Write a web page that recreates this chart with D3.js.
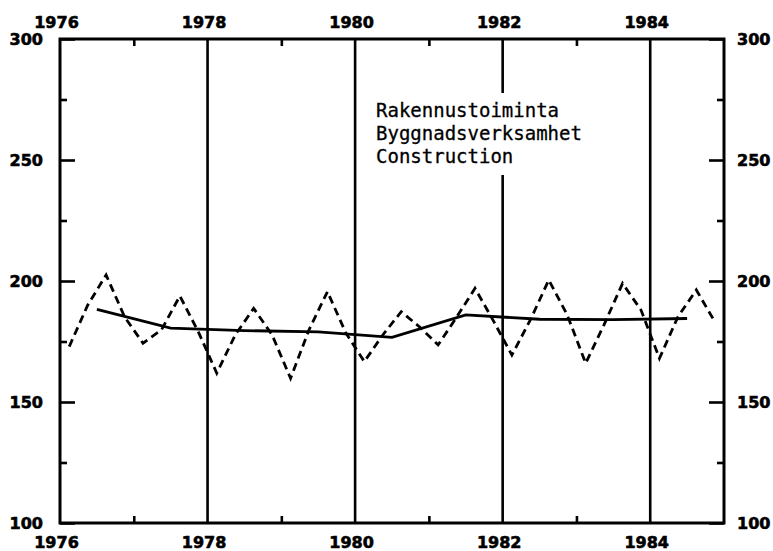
<!DOCTYPE html>
<html>
<head>
<meta charset="utf-8">
<script src="https://cdn.jsdelivr.net/npm/d3@7"></script>
<style>
  body { margin: 0; background: #fff; }
  svg { display: block; }
</style>
</head>
<body>
<div id="chart"></div>
<script>
// tick values
const majorYears = [1976, 1978, 1980, 1982, 1984];
const minorYears = [1977, 1979, 1981, 1983];
const gridYears = [1978, 1980, 1982, 1984];
const yMajor = [100, 150, 200, 250, 300];
const yMinor = [125, 175, 225, 275];

// quarterly index, 1976 Q1 .. 1984 Q4 (dashed)
const qYears = [1976, 1977, 1978, 1979, 1980, 1981, 1982, 1983, 1984];
const quarterly = [
  172.9, 190.0, 202.5, 185.2,
  174.3, 179.8, 193.8, 179.0,
  161.9, 177.7, 188.7, 177.7,
  159.8, 179.8, 195.6, 178.5,
  166.7, 177.7, 187.3, 181.0,
  173.6, 185.0, 197.0, 183.5,
  169.4, 183.9, 200.4, 186.0,
  166.0, 182.0, 199.0, 188.0,
  168.0, 185.2, 196.3, 183.2
];

// annual trend (solid), plotted mid-year
const trendYears = [1976.5, 1977.5, 1978.5, 1979.5, 1980.5, 1981.5, 1982.5, 1983.5, 1984.5];
const trend = [188.3, 180.5, 179.5, 179.0, 176.7, 186.0, 184.2, 184.0, 184.5];

const labels = ["Rakennustoiminta", "Byggnadsverksamhet", "Construction"];

function display() {
  const width = 773, height = 551;
  const left = 60, right = 724, top = 39, bottom = 523;

  const x = d3.scaleLinear().domain([1976, 1985]).range([left, right]);
  const y = d3.scaleLinear().domain([100, 300]).range([bottom, top]);

  const svg = d3.select("#chart").append("svg")
    .attr("width", width)
    .attr("height", height)
    .style("background", "#fff");

  // vertical grid lines at even years
  svg.append("g").selectAll("line")
    .data(gridYears)
    .enter().append("line")
    .attr("x1", d => x(d)).attr("x2", d => x(d))
    .attr("y1", top).attr("y2", bottom)
    .attr("stroke", "#000")
    .attr("stroke-width", 2.6);

  // text block (covers the 1982 grid line)
  const tg = svg.append("g");
  const txt = tg.append("text")
    .attr("font-family", "'DejaVu Sans Mono', monospace")
    .attr("font-size", 19)
    .attr("fill", "#000")
    .attr("stroke", "#000")
    .attr("stroke-width", 0.3);
  labels.forEach((s, i) => {
    txt.append("tspan")
      .attr("x", 376)
      .attr("y", 117 + i * 23)
      .text(s);
  });
  const bb = txt.node().getBBox();
  tg.insert("rect", "text")
    .attr("x", bb.x - 4)
    .attr("y", bb.y - 6)
    .attr("width", bb.width + 8)
    .attr("height", bb.height + 14)
    .attr("fill", "#fff");

  const fontAxis = g => g
    .call(g => g.select(".domain").remove())
    .selectAll("text")
    .attr("font-family", "'DejaVu Sans', sans-serif")
    .attr("font-weight", "bold")
    .attr("font-size", 16)
    .attr("fill", "#000")
    .attr("stroke", "#000")
    .attr("stroke-width", 0.6);

  const styleTicks = g => g.selectAll(".tick line")
    .attr("stroke", "#000")
    .attr("stroke-width", 2.6);

  // y axes, ticks pointing inward
  svg.append("g").attr("transform", `translate(${left},0)`)
    .call(d3.axisLeft(y).tickValues(yMajor).tickSize(-15).tickPadding(17).tickFormat(d3.format("d")))
    .call(fontAxis).call(styleTicks);
  svg.append("g").attr("transform", `translate(${left},0)`)
    .call(d3.axisLeft(y).tickValues(yMinor).tickSize(-7).tickFormat(""))
    .call(fontAxis).call(styleTicks);
  svg.append("g").attr("transform", `translate(${right},0)`)
    .call(d3.axisRight(y).tickValues(yMajor).tickSize(-15).tickPadding(13).tickFormat(d3.format("d")))
    .call(fontAxis).call(styleTicks);
  svg.append("g").attr("transform", `translate(${right},0)`)
    .call(d3.axisRight(y).tickValues(yMinor).tickSize(-7).tickFormat(""))
    .call(fontAxis).call(styleTicks);

  // x axes: year labels top and bottom, minor ticks at odd years
  svg.append("g").attr("transform", `translate(0,${top})`)
    .call(d3.axisTop(x).tickValues(majorYears).tickSize(0).tickPadding(11).tickFormat(d3.format("d")))
    .call(fontAxis)
    .selectAll("text").attr("dx", -4);
  svg.append("g").attr("transform", `translate(0,${top})`)
    .call(d3.axisTop(x).tickValues(minorYears).tickSize(-7).tickFormat(""))
    .call(fontAxis).call(styleTicks);
  svg.append("g").attr("transform", `translate(0,${bottom})`)
    .call(d3.axisBottom(x).tickValues(majorYears).tickSize(0).tickPadding(14).tickFormat(d3.format("d")))
    .call(fontAxis)
    .selectAll("text").attr("dx", -4);
  svg.append("g").attr("transform", `translate(0,${bottom})`)
    .call(d3.axisBottom(x).tickValues(minorYears).tickSize(-7).tickFormat(""))
    .call(fontAxis).call(styleTicks);

  // frame
  svg.append("rect")
    .attr("x", left).attr("y", top)
    .attr("width", right - left).attr("height", bottom - top)
    .attr("fill", "none")
    .attr("stroke", "#000")
    .attr("stroke-width", 3);

  // dashed quarterly series
  const qData = quarterly.map((v, i) => ({ t: qYears[Math.floor(i / 4)] + (i % 4 + 0.5) / 4, v: v }));
  const line = d3.line().x(d => x(d.t)).y(d => y(d.v));
  svg.append("path")
    .datum(qData)
    .attr("d", line)
    .attr("fill", "none")
    .attr("stroke", "#000")
    .attr("stroke-width", 2.8)
    .attr("stroke-dasharray", "8,5");

  // solid trend
  const tData = trend.map((v, i) => ({ t: trendYears[i], v: v }));
  svg.append("path")
    .datum(tData)
    .attr("d", line)
    .attr("fill", "none")
    .attr("stroke", "#000")
    .attr("stroke-width", 2.8);
}

display();
</script>
</body>
</html>
